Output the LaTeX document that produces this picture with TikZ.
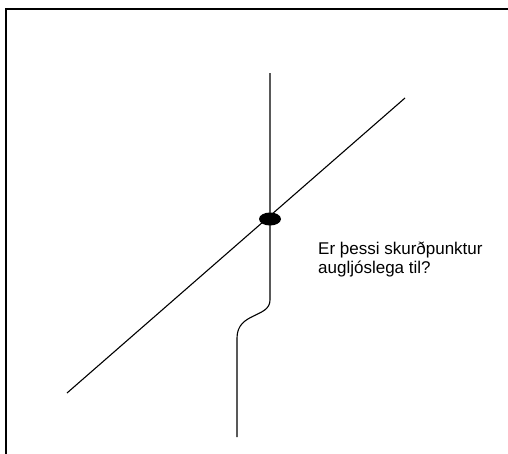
\documentclass[tikz,border=0pt]{standalone}
\usepackage{fontspec}
\setmainfont{Liberation Sans}
\usetikzlibrary{positioning,shapes.geometric}

\begin{document}
\begin{tikzpicture}[x=1pt,y=-1pt,
  frame/.style={line width=2.6pt,line cap=rect},
  thin/.style={line width=1.1pt},
  dot/.style={ellipse,fill=black,minimum width=22pt,minimum height=13pt,inner sep=0pt}]
\useasboundingbox (0,0) rectangle (508,453);
\draw[frame] (510,9) -- (6,9) -- (6,455);
% the two lines
\coordinate (lo) at (67,393);
\coordinate (hi) at (405,98);
\coordinate (top) at (270,73);
\coordinate (bend) at (270,300);
\coordinate (foot) at (237,437);
\draw[thin] (lo) -- (hi);
\draw[thin] (top) -- (bend) .. controls (270,318) and (237,312) .. (237,338) -- (foot);
\node[dot] (cut) at (270,219) {};
\node[anchor=north west,inner sep=0pt,align=left,font=\fontsize{17}{19}\selectfont] (txt) at (318,242)
  {Er þessi skurðpunktur\\augljóslega til?};
\end{tikzpicture}
\end{document}
